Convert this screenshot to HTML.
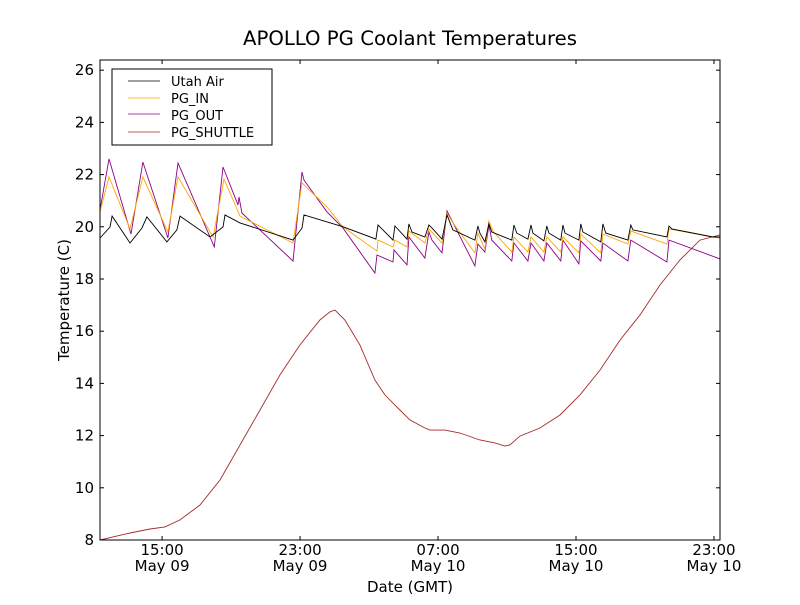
<!DOCTYPE html>
<html><head><meta charset="utf-8"><style>
body{margin:0;background:#fff;}
svg text{font-family:"DejaVu Sans","Liberation Sans",sans-serif;fill:#000;}
</style></head><body>
<svg id="chart" width="800" height="600" viewBox="0 0 800 600" xmlns="http://www.w3.org/2000/svg">
<rect width="800" height="600" fill="#fff"/>
<text x="410" y="45" font-size="19.7" text-anchor="middle">APOLLO PG Coolant Temperatures</text>
<g id="series"></g>
<g id="axes"></g>
<rect x="100" y="60" width="620" height="480" fill="none" stroke="#000" stroke-width="1"/>
<text x="410" y="592" font-size="15" text-anchor="middle">Date (GMT)</text>
<text x="69" y="300" font-size="15" text-anchor="middle" transform="rotate(-90 69 300)">Temperature (C)</text>
<g>
<rect x="112" y="69" width="160" height="76" fill="#fff" stroke="#000" stroke-width="1"/>
<line x1="128" y1="81" x2="160" y2="81" stroke="#000" stroke-width="0.8"/>
<text x="171" y="86" font-size="13">Utah Air</text>
<line x1="128" y1="98" x2="160" y2="98" stroke="#ffa500" stroke-width="0.8"/>
<text x="171" y="103" font-size="13">PG_IN</text>
<line x1="128" y1="114" x2="160" y2="114" stroke="#8b008b" stroke-width="0.8"/>
<text x="171" y="120" font-size="13">PG_OUT</text>
<line x1="128" y1="132" x2="160" y2="132" stroke="#a52a2a" stroke-width="0.8"/>
<text x="171" y="137" font-size="13">PG_SHUTTLE</text>
</g>
</svg>
<script>
// hours since May 09 00:00 GMT
const airT=[11.40,11.98,12.10,13.14,13.83,14.12,15.28,15.86,16.04,17.78,18.53,18.65,19.52,22.59,23.11,23.23,25.5,27.40,27.52,28.39,28.50,29.20,29.31,29.49,30.24,30.47,30.65,31.23,31.52,31.86,33.14,33.31,33.43,33.72,33.95,34.12,35.28,35.40,35.57,36.21,36.39,36.50,37.14,37.31,37.43,38.12,38.24,38.36,39.17,39.28,39.40,40.44,40.56,40.73,42.01,42.18,42.30,44.27,44.39,44.56,46.94,47.35];
const airV=[19.57,19.99,20.41,19.38,19.95,20.38,19.42,19.88,20.41,19.61,19.99,20.45,20.15,19.49,19.95,20.45,20.0,19.53,20.07,19.49,20.03,19.53,20.11,19.80,19.61,20.07,19.95,19.53,20.45,19.88,19.49,20.03,19.76,19.42,20.11,19.80,19.49,20.07,19.76,19.53,20.07,19.76,19.46,20.03,19.76,19.49,20.07,19.76,19.49,20.11,19.80,19.42,20.11,19.76,19.49,20.07,19.88,19.61,20.03,19.92,19.61,19.61];
const inT=[11.40,11.92,13.14,13.89,15.34,15.92,17.96,18.59,19.52,22.59,23.11,24.56,25.49,27.46,27.52,28.39,28.50,29.20,29.31,30.24,30.47,31.23,31.52,31.86,33.14,33.31,33.72,33.95,34.18,35.28,35.40,36.21,36.39,37.14,37.31,38.12,38.24,39.17,39.28,40.44,40.56,42.01,42.18,44.27,44.39,46.94,47.35];
const inV=[20.57,21.91,19.92,21.91,19.80,21.91,19.61,21.83,20.41,19.38,21.68,20.76,19.99,19.07,19.49,19.23,19.49,19.23,19.84,19.38,19.92,19.38,20.53,20.15,19.00,19.76,19.15,20.22,19.84,19.03,19.61,19.03,19.61,19.03,19.61,19.03,19.61,19.00,19.72,19.00,19.72,19.34,19.84,19.34,19.92,19.61,19.57];
const outT=[11.40,11.92,13.20,13.89,15.34,15.92,18.03,18.53,19.40,19.46,19.63,22.59,23.11,23.23,24.56,25.49,27.34,27.46,28.39,28.45,29.20,29.31,30.24,30.47,30.65,31.23,31.52,33.14,33.31,33.72,33.95,34.12,35.28,35.40,36.21,36.39,37.14,37.31,38.12,38.24,39.17,39.28,40.44,40.56,42.01,42.18,44.27,44.39,47.35];
const outV=[20.65,22.60,19.72,22.48,19.57,22.44,19.23,22.29,20.84,21.14,20.53,18.69,22.10,21.79,20.57,19.95,18.23,18.92,18.65,19.11,18.54,19.61,18.80,19.80,19.49,19.00,20.61,18.50,19.34,19.03,20.07,19.49,18.69,19.38,18.69,19.38,18.69,19.38,18.69,19.49,18.58,19.46,18.69,19.38,18.69,19.49,18.65,19.49,18.77];
const shT=[11.40,13.14,14.30,15.17,16.04,17.20,18.36,19.52,20.68,21.83,22.99,24.15,24.73,25.02,25.60,26.47,27.34,27.92,28.50,28.79,29.37,30.24,30.53,31.40,32.27,33.43,34.30,34.88,35.17,35.75,36.91,38.07,39.23,40.39,41.55,42.71,43.87,45.03,46.19,47.35];
const shV=[8.0,8.27,8.42,8.5,8.77,9.34,10.3,11.64,12.98,14.32,15.47,16.43,16.74,16.81,16.43,15.47,14.13,13.56,13.17,12.98,12.6,12.29,12.21,12.21,12.1,11.83,11.72,11.6,11.64,11.98,12.29,12.79,13.56,14.51,15.66,16.62,17.77,18.73,19.49,19.69];
const yTicks=[8,10,12,14,16,18,20,22,24,26];
const xTicks=[15,23,31,39,47];
const xTickTime=["15:00","23:00","07:00","15:00","23:00"];
const xTickDate=["May 09","May 09","May 10","May 10","May 10"];

const X0=100,X1=720,Y0=540,Y1=60,XMIN=11.4,XMAX=47.35,YMIN=8,YMAX=26.39;
function xs(h){return X0+(h-XMIN)/(XMAX-XMIN)*(X1-X0);}
function ys(v){return Y0-(v-YMIN)/(YMAX-YMIN)*(Y0-Y1);}
const NS="http://www.w3.org/2000/svg";
const sg=document.getElementById('series'), ag=document.getElementById('axes');
function line(t,v,color,name){
  const p=document.createElementNS(NS,'path');
  p.setAttribute('d',t.map((h,i)=>(i?'L':'M')+xs(h).toFixed(1)+' '+ys(v[i]).toFixed(1)).join(''));
  p.setAttribute('fill','none');p.setAttribute('stroke',color);p.setAttribute('stroke-width','0.9');
  
  
  sg.appendChild(p);
}
line(shT,shV,'#a52a2a','series-pg-shuttle');
line(outT,outV,'#8b008b','series-pg-out');
line(inT,inV,'#ffa500','series-pg-in');
line(airT,airV,'#000000','series-utah-air');
function tick(x1,y1,x2,y2){const l=document.createElementNS(NS,'line');l.setAttribute('x1',x1);l.setAttribute('y1',y1);l.setAttribute('x2',x2);l.setAttribute('y2',y2);l.setAttribute('stroke','#000');


ag.appendChild(l);}
function txt(x,y,s,anchor){const t=document.createElementNS(NS,'text');t.setAttribute('x',x);t.setAttribute('y',y);t.setAttribute('font-size','15');t.setAttribute('text-anchor',anchor);t.textContent=s;


ag.appendChild(t);}
yTicks.forEach(v=>{const y=ys(v);tick(X0,y,X0+4,y);tick(X1,y,X1-4,y);txt(94,y+5,String(v),'end');});
xTicks.forEach((h,i)=>{const x=xs(h);tick(x,Y0,x,Y0-4);tick(x,Y1,x,Y1+4);txt(x,555,xTickTime[i],'middle');txt(x,571,xTickDate[i],'middle');});
</script>
</body></html>
